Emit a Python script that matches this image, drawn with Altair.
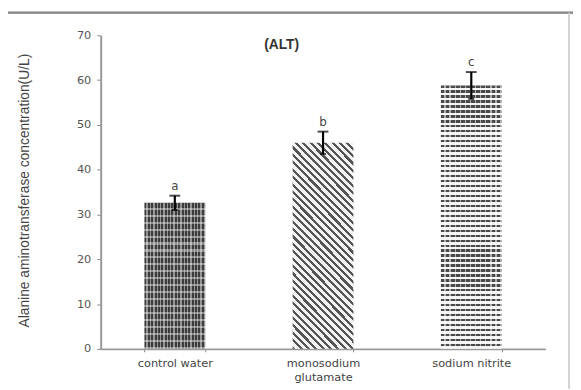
import altair as alt
import pandas as pd

categories = ["control water", "monosodium glutamate", "sodium nitrite"]
means = [32.6, 46.0, 58.8]
errors = [1.6, 2.5, 3.0]
letters = ["a", "b", "c"]

df = pd.DataFrame({
    "group": categories,
    "mean": means,
    "low": [m - e for m, e in zip(means, errors)],
    "high": [m + e for m, e in zip(means, errors)],
    "letter": letters,
})

W, H = 451, 318


def stripes(c1, c2, n, f=0.5):
    stops = []
    for i in range(n):
        a = i / n
        b = (i + f) / n
        c = (i + 1) / n
        stops += [
            {"offset": round(a, 5), "color": c1},
            {"offset": round(b, 5), "color": c1},
            {"offset": round(b, 5), "color": c2},
            {"offset": round(c, 5), "color": c2},
        ]
    return stops


xenc = alt.X(
    "group:N",
    sort=categories,
    scale=alt.Scale(paddingInner=0.59, paddingOuter=0.295),
    axis=alt.Axis(
        title=None,
        labelAngle=0,
        labelFont="DejaVu Sans",
        labelFontSize=11.5,
        labelColor="#444444",
        labelPadding=6,
        labelLineHeight=14,
        labelExpr="datum.label == 'monosodium glutamate' ? ['monosodium', 'glutamate'] : datum.label",
        tickBand="extent",
        tickSize=3,
        tickColor="#888888",
        domainColor="#999999",
        domainWidth=2,
    ),
)
yenc = alt.Y(
    "mean:Q",
    scale=alt.Scale(domain=[0, 70]),
    axis=alt.Axis(
        title="Alanine aminotransferase concentration(U/L)",
        titleFont="Liberation Sans",
        titleFontSize=14,
        titleFontWeight="normal",
        titleColor="#444444",
        titleX=-77,
        titleY=H / 2 - 2,
        titleAngle=-90,
        titleBaseline="middle",
        titleAlign="center",
        values=[0, 10, 20, 30, 40, 50, 60, 70],
        labelFont="DejaVu Sans",
        labelFontSize=11.5,
        labelColor="#555555",
        labelPadding=6,
        tickSize=4,
        tickColor="#888888",
        domainColor="#999999",
        domainWidth=2,
        grid=False,
    ),
)

base = alt.Chart(df)

# control water: dark rows + light columns
ctrl_rows = base.transform_filter(alt.datum.group == categories[0]).mark_bar(
    fill={"gradient": "linear", "x1": 0, "y1": 0, "x2": 0, "y2": 1,
          "stops": stripes("#3c3c3c", "#8c8c8c", 21, 0.7)}
).encode(x=xenc, y=yenc)
ctrl_cols = base.transform_filter(alt.datum.group == categories[0]).mark_bar(
    fill={"gradient": "linear", "x1": 0, "y1": 0, "x2": 1, "y2": 0,
          "stops": stripes("rgba(255,255,255,0)", "rgba(255,255,255,0.45)", 18, 0.6)}
).encode(x=xenc, y=yenc)

# monosodium glutamate: diagonal stripes
msg_bar = base.transform_filter(alt.datum.group == categories[1]).mark_bar(
    fill={"gradient": "linear", "x1": 0, "y1": 1, "x2": 0.354, "y2": -0.19,
          "stops": stripes("#555555", "#f2f2f2", 36, 0.42)}
).encode(x=xenc, y=yenc)

# sodium nitrite: wavy rows
nit_rows = base.transform_filter(alt.datum.group == categories[2]).mark_bar(
    fill={"gradient": "linear", "x1": 0, "y1": 0, "x2": 0, "y2": 1,
          "stops": stripes("#4a4a4a", "#f4f4f4", 53, 0.45)}
).encode(x=xenc, y=yenc)
nit_cols = base.transform_filter(alt.datum.group == categories[2]).mark_bar(
    fill={"gradient": "linear", "x1": 0, "y1": 0, "x2": 1, "y2": 0,
          "stops": stripes("rgba(255,255,255,0)", "rgba(255,255,255,0.55)", 12, 0.7)}
).encode(x=xenc, y=yenc)

err = base.mark_rule(color="black", strokeWidth=2.2).encode(
    x=alt.X("group:N", sort=categories), y="low:Q", y2="high:Q"
)
cap_top = base.mark_tick(color="black", size=11, thickness=2).encode(
    x=alt.X("group:N", sort=categories), y="high:Q"
)
cap_bot = base.mark_tick(color="black", size=6, thickness=2).encode(
    x=alt.X("group:N", sort=categories), y="low:Q"
)
lab = base.mark_text(
    dy=-10, fontSize=12, font="DejaVu Sans", color="#444444", baseline="middle"
).encode(x=alt.X("group:N", sort=categories), y="high:Q", text="letter:N")

frame_left = alt.Chart(df).mark_rule(color="#8a8a8a", strokeWidth=2).encode(
    x=alt.value(-95), y=alt.value(-23), y2=alt.value(400)
)
frame_top = alt.Chart(df).mark_rule(color="#8a8a8a", strokeWidth=2).encode(
    x=alt.value(-95), x2=alt.value(500), y=alt.value(-23)
)
frame_right = alt.Chart(df).mark_rule(color="#cccccc", strokeWidth=1).encode(
    x=alt.value(475), y=alt.value(-23), y2=alt.value(400)
)

chart = alt.layer(
    ctrl_rows, ctrl_cols, msg_bar, nit_rows, nit_cols,
    err, cap_top, cap_bot, lab, frame_left, frame_top, frame_right,
).properties(
    width=W,
    height=H,
    background="white",
    title=alt.TitleParams(
        "(ALT)", anchor="middle", frame="group", dx=-42, dy=48, offset=0,
        baseline="middle", fontSize=14, fontWeight="bold", color="#333333",
        font="Liberation Sans",
    ),
    autosize=alt.AutoSizeParams(type="none"),
    padding={"left": 94, "top": 25, "right": 28, "bottom": 38},
).configure_view(strokeWidth=0, stroke=None)

chart.save("out.html", embed_options={"renderer": "svg", "actions": False})
